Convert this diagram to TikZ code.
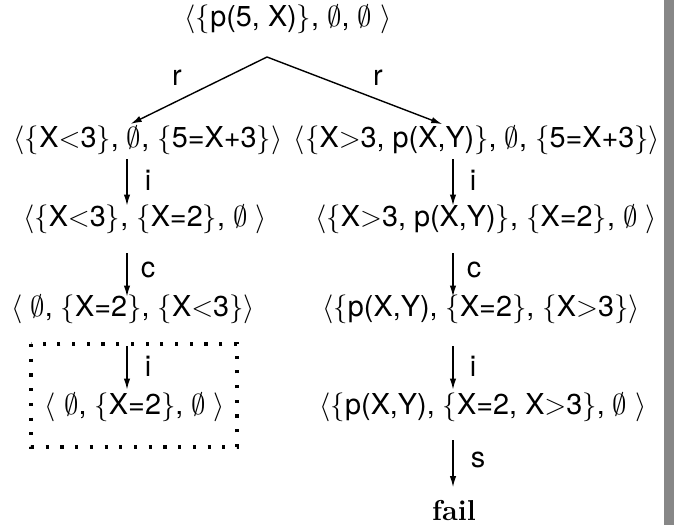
\documentclass[tikz,border=0pt]{standalone}
\usepackage{fontspec}
\setsansfont{TeX Gyre Heros}
\usetikzlibrary{arrows.meta}
\definecolor{barg}{RGB}{135,135,135}
\newcommand\lA{$\langle$}
\newcommand\rA{$\rangle$}
\newcommand\lB{$\{$}
\newcommand\rB{$\}$}
\newcommand\es{$\emptyset$}
\begin{document}
\begin{tikzpicture}[x=0.5pt,y=-0.5pt,
  every node/.style={font=\sffamily\fontsize{14.4}{17}\selectfont, inner sep=0pt},
  st/.style={text height=10.8pt, text depth=3.6pt},
  arr/.style={-{Latex[length=5.5pt,width=3.2pt]}, line width=0.7pt},
  dotbox/.style={line width=1.6pt, dash pattern=on 1.6pt off 5.757pt}]
\useasboundingbox (0,0) rectangle (674,525);
\fill[barg] (664,0) rectangle (674,525);
% columns
\coordinate (xl) at (128,0);
\coordinate (xr) at (445,0);
\coordinate (cl) at (127,0);
\coordinate (cr) at (453,0);
% nodes
\node[st] (n1) at (288,19) {\lA\lB p(5, X)\rB, \es, \es\ \rA};
\coordinate (top) at (267,57);
\node[st] (n2l) at (148,140) {\lA\lB X$<$3\rB, \es, \lB 5=X+3\rB\rA};
\node[st] (n2r) at (477,140) {\lA\lB X$>$3, p(X,Y)\rB, \es, \lB 5=X+3\rB\rA};
\node[st] (n3l) at (145,219) {\lA\lB X$<$3\rB, \lB X=2\rB, \es\ \rA};
\node[st] (n3r) at (486,219) {\lA\lB X$>$3, p(X,Y)\rB, \lB X=2\rB, \es\ \rA};
\node[st] (n4l) at (133,309) {\lA\ \es, \lB X=2\rB, \lB X$<$3\rB\rA};
\node[st] (n4r) at (481,309) {\lA\lB p(X,Y), \lB X=2\rB, \lB X$>$3\rB\rA};
\node[st] (n5l) at (135,407) {\lA\ \es, \lB X=2\rB, \es\ \rA};
\node[st] (n5r) at (483,407) {\lA\lB p(X,Y), \lB X=2, X$>$3\rB, \es\ \rA};
\node[st] (fail) at (454,513) {\rmfamily\bfseries fail};
% dotted box
\draw[dotbox] (31,344) rectangle (237,447);
% arrows
\draw[arr, shorten >=1.5pt] (top) -- (n2l.north -| xl);
\draw[arr, shorten >=1.5pt] (top) -- (n2r.north -| xr);
\draw[arr, shorten <=2.3pt, shorten >=-0.7pt] (n2l.south -| cl) -- (n3l.north -| cl);
\draw[arr, shorten <=2.3pt, shorten >=-0.7pt] (n2r.south -| cr) -- (n3r.north -| cr);
\draw[arr, shorten <=9.8pt, shorten >=-1.2pt] (n3l.south -| cl) -- (n4l.north -| cl);
\draw[arr, shorten <=9.8pt, shorten >=-1.2pt] (n3r.south -| cr) -- (n4r.north -| cr);
\draw[arr, shorten <=11.3pt, shorten >=1.3pt] (n4l.south -| cl) -- (n5l.north -| cl);
\draw[arr, shorten <=11.3pt, shorten >=1.3pt] (n4r.south -| cr) -- (n5r.north -| cr);
\draw[arr, shorten <=9.3pt, shorten >=5.5pt] (n5r.south -| cr) -- (fail.north -| cr);
% labels
\node (lr1) at (177,78) {r};
\node (lr2) at (378,78) {r};
\node (li1) at (148,180) {i};
\node (li2) at (473,180) {i};
\node (lc1) at (148,270) {c};
\node (lc2) at (474,270) {c};
\node (li3) at (148,366) {i};
\node (li4) at (473,366) {i};
\node (ls) at (478,460) {s};
\end{tikzpicture}
\end{document}
